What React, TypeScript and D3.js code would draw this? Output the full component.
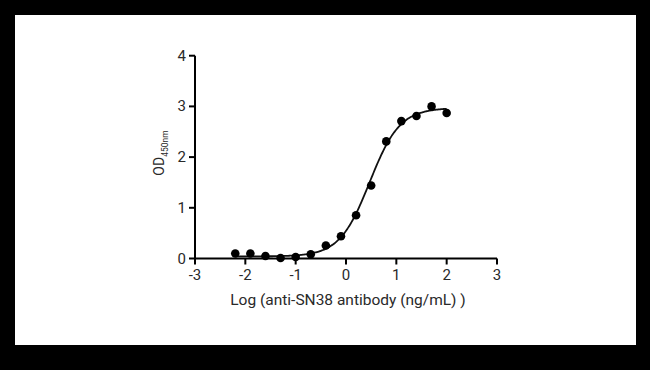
import React from "react";
import * as d3 from "d3";

const logConc = [-2.2, -1.9, -1.6, -1.3, -1.0, -0.7, -0.4, -0.1, 0.2, 0.5, 0.8, 1.1, 1.4, 1.7, 2.0];
const odValues = [0.1, 0.1, 0.05, 0.01, 0.03, 0.085, 0.256, 0.44, 0.854, 1.44, 2.31, 2.71, 2.81, 3.0, 2.87];
const xTicks = [-3, -2, -1, 0, 1, 2, 3];
const yTicks = [0, 1, 2, 3, 4];
// 4PL fit parameters
const fitBottom = 0.04;
const fitTop = 2.97;
const fitLogEC50 = 0.47;
const fitHill = 1.45;

const W = 650;
const H = 370;
const FONT = "Roboto, 'Noto Sans', sans-serif";

export default function App() {
  const x = d3.scaleLinear().domain([-3, 3]).range([195, 497]);
  const y = d3.scaleLinear().domain([0, 4]).range([258.5, 55.7]);

  const f = (lx: number) =>
    fitBottom + (fitTop - fitBottom) / (1 + Math.pow(10, (fitLogEC50 - lx) * fitHill));
  const curvePts = d3.range(0, 201).map((i) => {
    const lx = logConc[0] + ((logConc[logConc.length - 1] - logConc[0]) * i) / 200;
    return [lx, f(lx)] as [number, number];
  });
  const line = d3
    .line<[number, number]>()
    .x((d) => x(d[0]))
    .y((d) => y(d[1]))
    .curve(d3.curveBasis);

  const textColor = "#2a2a2a";

  return (
    <svg
      width={W}
      height={H}
      style={{ position: "absolute", left: 0, top: 0, display: "block" }}
      fontFamily={FONT}
    >
      <rect x={0} y={0} width={W} height={H} fill="#000" />
      <rect x={15} y={15} width={621} height={330} fill="#fff" />

      {/* fitted curve */}
      <path d={line(curvePts) || ""} fill="none" stroke="#111" strokeWidth={1.8} />

      {/* points */}
      {logConc.map((lx, i) => (
        <circle key={i} cx={x(lx)} cy={y(odValues[i])} r={4.3} fill="#000" />
      ))}

      {/* y axis */}
      <line x1={x(-3)} x2={x(-3)} y1={y(4)} y2={y(0)} stroke="#000" strokeWidth={2} />
      {yTicks.map((t) => (
        <g key={t}>
          <line x1={x(-3) - 6} x2={x(-3)} y1={y(t)} y2={y(t)} stroke="#000" strokeWidth={2} />
          <text
            x={x(-3) - 9}
            y={y(t)}
            textAnchor="end"
            dominantBaseline="central"
            fontSize={15}
            fill={textColor}
          >
            {t}
          </text>
        </g>
      ))}

      {/* x axis */}
      <line x1={x(-3)} x2={x(3)} y1={y(0)} y2={y(0)} stroke="#000" strokeWidth={2} />
      {xTicks.map((t) => (
        <g key={t}>
          <line x1={x(t)} x2={x(t)} y1={y(0)} y2={y(0) + 6} stroke="#000" strokeWidth={2} />
          <text x={x(t)} y={y(0) + 21} textAnchor="middle" fontSize={15} fill={textColor}>
            {t < 0 ? "-" + Math.abs(t) : String(t)}
          </text>
        </g>
      ))}

      {/* axis titles */}
      <text x={348} y={305} textAnchor="middle" fontSize={15.5} fill={textColor}>
        Log (anti-SN38 antibody (ng/mL) )
      </text>
      <text transform="translate(164,153) rotate(-90)" textAnchor="middle" fontSize={14} fill={textColor}>
        OD
        <tspan fontSize={8.5} dy={4}>
          450nm
        </tspan>
      </text>
    </svg>
  );
}
